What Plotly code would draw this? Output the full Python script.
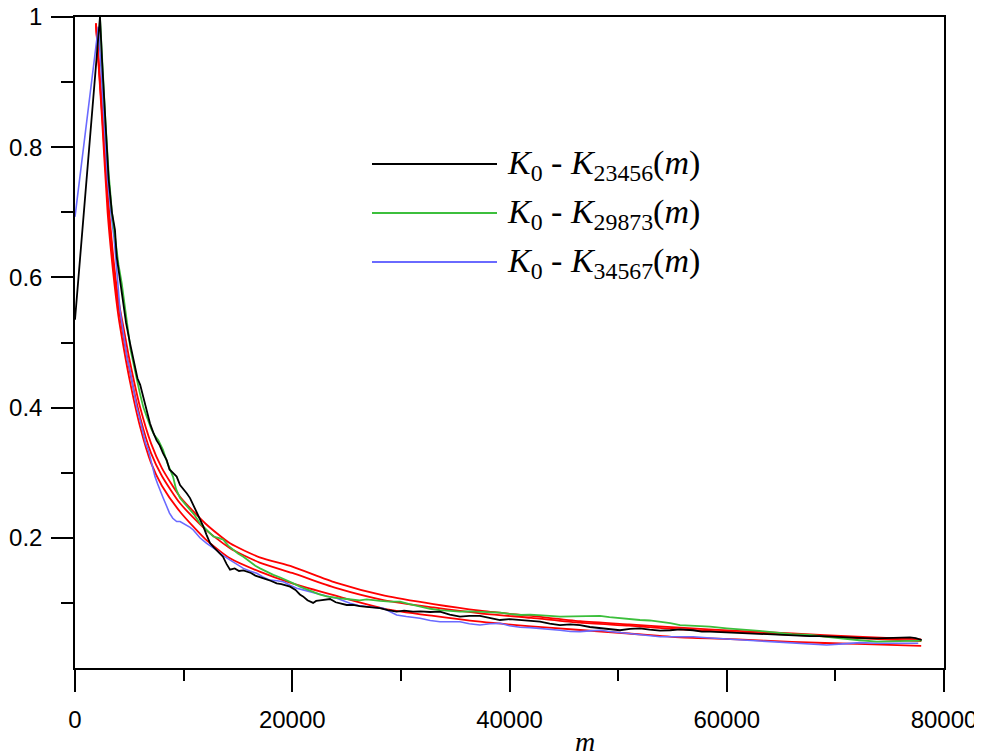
import plotly.graph_objects as go

# ---- data ----
black_m = [0, 2300, 2500, 2800, 3100, 3400, 3680, 3840, 4100, 4400, 4700, 5063, 5300, 5500, 5750, 6000, 6290, 6600, 6900, 7200,
           7500, 7800, 8100, 8440, 8700, 9000, 9360, 9670, 10000, 10300, 10590, 10900, 11200, 11510, 11800, 12100, 12430, 12800,
           13200, 13620, 13950, 14270, 14700, 15100, 15500, 15800, 16200, 16600, 17030, 17500, 18000, 18570, 19000, 19400, 19800,
           20300, 20700, 20990, 21400, 21920, 22200, 22560, 23000, 23480, 24000, 24500, 25010, 25600, 26200, 26850, 27500, 28080,
           28800, 29610, 30300, 31120, 31800, 32700, 33600, 34500, 35440, 36300, 37280, 38200, 39130, 40000, 40970, 41900, 42810,
           43700, 44650, 45600, 46490, 47400, 48330, 49200, 50170, 51100, 52010, 52900, 53860, 54800, 55700, 56900, 57700, 58460,
           59500, 60500, 61500, 62500, 63500, 64600, 65600, 66600, 67660, 68700, 69700, 70700, 71700, 72700, 73800, 74800, 75800,
           76870, 77400, 77950]
black_y = [0.535, 1.0, 0.93, 0.83, 0.75, 0.70, 0.673, 0.632, 0.60, 0.56, 0.53, 0.499, 0.48, 0.465, 0.445, 0.435, 0.417, 0.395, 0.376, 0.362,
           0.350, 0.342, 0.330, 0.3195, 0.305, 0.300, 0.294, 0.281, 0.275, 0.268, 0.261, 0.250, 0.240, 0.227, 0.218, 0.205, 0.192, 0.185,
           0.178, 0.171, 0.160, 0.151, 0.153, 0.149, 0.150, 0.148, 0.146, 0.142, 0.140, 0.137, 0.134, 0.130, 0.129, 0.127, 0.125,
           0.120, 0.113, 0.110, 0.104, 0.100, 0.103, 0.104, 0.105, 0.106, 0.101, 0.099, 0.0968, 0.097, 0.095, 0.094, 0.093, 0.092,
           0.089, 0.0865, 0.088, 0.0865, 0.087, 0.086, 0.0865, 0.082, 0.0788, 0.080, 0.080, 0.077, 0.0737, 0.075, 0.0737, 0.072, 0.0711,
           0.068, 0.066, 0.067, 0.066, 0.063, 0.061, 0.059, 0.058, 0.060, 0.061, 0.059, 0.0573, 0.058, 0.0594, 0.058, 0.056, 0.0558,
           0.055, 0.054, 0.053, 0.053, 0.052, 0.0517, 0.050, 0.050, 0.049, 0.049, 0.048, 0.048, 0.047, 0.046, 0.0455, 0.046, 0.046,
           0.047, 0.046, 0.043]

green_m = [2300, 2500, 2800, 3100, 3400, 3700, 4000, 4300, 4450, 4650, 4880, 5100, 5400, 5680, 6000, 6300, 6600, 7000, 7300, 7670,
           8100, 8500, 9020, 9300, 9670, 10100, 10590, 11000, 11510, 12100, 12730, 13200, 13650, 14100, 14570, 15000, 15500, 16110,
           16600, 17030, 17600, 18260, 18900, 19490, 20100, 20710, 21300, 21940, 22500, 23170, 23800, 24400, 25000, 25620, 26200,
           26850, 27500, 28080, 29000, 29920, 30800, 31760, 32700, 33600, 34500, 35440, 36300, 37280, 38200, 39130, 40000, 40970,
           41900, 42810, 43700, 44650, 45600, 46490, 47400, 48330, 49200, 50170, 51100, 52010, 52900, 53860, 54800, 55700, 57000,
           58460, 60000, 61530, 63000, 64600, 66000, 67660, 69000, 70730, 72000, 73800, 75300, 76870, 77950]
green_y = [1.0, 0.93, 0.84, 0.76, 0.70, 0.66, 0.62, 0.591, 0.570, 0.545, 0.519, 0.49, 0.465, 0.447, 0.42, 0.40, 0.386, 0.368, 0.358, 0.350,
           0.335, 0.315, 0.294, 0.275, 0.261, 0.252, 0.243, 0.235, 0.222, 0.212, 0.202, 0.200, 0.197, 0.188, 0.181, 0.176, 0.171, 0.163,
           0.157, 0.153, 0.148, 0.143, 0.139, 0.135, 0.130, 0.125, 0.121, 0.117, 0.113, 0.110, 0.108, 0.107, 0.106, 0.1045, 0.104,
           0.1055, 0.104, 0.103, 0.102, 0.102, 0.098, 0.094, 0.091, 0.089, 0.088, 0.0865, 0.087, 0.0865, 0.086, 0.085, 0.083, 0.0814,
           0.082, 0.0814, 0.080, 0.0788, 0.079, 0.0788, 0.080, 0.080, 0.078, 0.0763, 0.075, 0.0737, 0.073, 0.0715, 0.069, 0.066, 0.065,
           0.0635, 0.061, 0.0594, 0.057, 0.0543, 0.052, 0.0507, 0.048, 0.0456, 0.043, 0.0404, 0.041, 0.042, 0.042]

blue_m = [0, 2150, 2400, 2700, 3000, 3300, 3600, 3900, 4140, 4400, 4600, 4800, 5060, 5350, 5680, 6000, 6290, 6500, 6750, 7050,
          7360, 7600, 7820, 8100, 8400, 8700, 9000, 9360, 9670, 10000, 10280, 10600, 10890, 11200, 11500, 12120, 12600, 13040,
          13600, 14270, 14900, 15500, 16100, 16730, 17300, 17950, 18600, 19180, 19800, 20410, 21000, 21630, 22200, 22860, 23500,
          24090, 24700, 25320, 26100, 26850, 27600, 28380, 29000, 29610, 30500, 31760, 32700, 33600, 34500, 35440, 36300, 37280,
          38200, 39130, 40000, 40970, 41900, 42810, 43700, 44650, 45600, 46490, 47400, 48330, 49200, 50170, 51100, 52010, 52900,
          53860, 55000, 56920, 58500, 59990, 61500, 63060, 64600, 66130, 67700, 69200, 70700, 72270, 73800, 75330, 76500, 77630]
blue_y = [0.693, 0.985, 0.92, 0.83, 0.75, 0.70, 0.66, 0.60, 0.55, 0.52, 0.499, 0.475, 0.458, 0.43, 0.401, 0.38, 0.36, 0.345, 0.335, 0.315,
          0.294, 0.283, 0.273, 0.262, 0.250, 0.238, 0.230, 0.225, 0.225, 0.222, 0.220, 0.216, 0.212, 0.206, 0.200, 0.1915, 0.186, 0.181,
          0.173, 0.166, 0.160, 0.153, 0.149, 0.1455, 0.140, 0.135, 0.134, 0.1326, 0.127, 0.1224, 0.120, 0.117, 0.114, 0.112, 0.109,
          0.107, 0.103, 0.0994, 0.096, 0.094, 0.093, 0.0917, 0.086, 0.0814, 0.079, 0.0763, 0.073, 0.0711, 0.071, 0.0711, 0.068, 0.066,
          0.068, 0.0686, 0.065, 0.0625, 0.062, 0.061, 0.059, 0.058, 0.056, 0.0558, 0.057, 0.058, 0.056, 0.0543, 0.053, 0.0522, 0.050,
          0.048, 0.048, 0.048, 0.046, 0.044, 0.043, 0.0415, 0.040, 0.039, 0.037, 0.0353, 0.037, 0.039, 0.038, 0.038, 0.037, 0.038]

fit_m = [1930, 2500, 3000, 3500, 4000, 4500, 5000, 6000, 7000, 8000, 9670, 12000, 14270, 17000, 20000, 24000, 28500, 33000,
         37300, 42000, 46500, 51000, 55700, 61000, 66000, 72000, 77900]
fit1_y = [0.99, 0.86, 0.73, 0.635, 0.565, 0.52, 0.475, 0.40, 0.345, 0.307, 0.263, 0.222, 0.1915, 0.17, 0.1556, 0.131, 0.111, 0.098,
          0.088, 0.080, 0.072, 0.067, 0.062, 0.057, 0.053, 0.048, 0.044]
fit2_y = [0.99, 0.85, 0.72, 0.625, 0.555, 0.505, 0.46, 0.385, 0.33, 0.295, 0.253, 0.213, 0.184, 0.162, 0.146, 0.123, 0.104, 0.093,
          0.084, 0.077, 0.0696, 0.065, 0.0594, 0.055, 0.051, 0.046, 0.0415]
fit3_y = [0.99, 0.84, 0.70, 0.61, 0.54, 0.49, 0.445, 0.37, 0.315, 0.28, 0.240, 0.198, 0.1685, 0.148, 0.130, 0.111, 0.091, 0.080,
          0.0711, 0.064, 0.0584, 0.053, 0.047, 0.044, 0.040, 0.037, 0.034]

legend_labels = [
    "<i>K</i><sub>0</sub> - <i>K</i><sub>23456</sub>(<i>m</i>)",
    "<i>K</i><sub>0</sub> - <i>K</i><sub>29873</sub>(<i>m</i>)",
    "<i>K</i><sub>0</sub> - <i>K</i><sub>34567</sub>(<i>m</i>)",
]

x_tickvals = [0, 20000, 40000, 60000, 80000]
x_ticktext = ["0", "20000", "40000", "60000", "80000"]
y_tickvals = [0.2, 0.4, 0.6, 0.8, 1.0]
y_ticktext = ["0.2", "0.4", "0.6", "0.8", "1"]

BLACK = "#000000"
GREEN = "#3cbf3c"
BLUE = "#6a6aff"
RED = "#ff0000"

fig = go.Figure()
for fy in (fit1_y, fit2_y, fit3_y):
    fig.add_trace(go.Scatter(x=fit_m, y=fy, mode="lines", line=dict(color=RED, width=1.8, shape="spline", smoothing=0.6),
                             showlegend=False, hoverinfo="skip"))
fig.add_trace(go.Scatter(x=blue_m, y=blue_y, mode="lines", line=dict(color=BLUE, width=1.6), showlegend=False))
fig.add_trace(go.Scatter(x=green_m, y=green_y, mode="lines", line=dict(color=GREEN, width=1.8), showlegend=False))
fig.add_trace(go.Scatter(x=black_m, y=black_y, mode="lines", line=dict(color=BLACK, width=1.8), showlegend=False))

# page body has an 8px margin, so the figure is placed at (8, 8) on screen
OFF = 8
W, H = 982 - OFF, 756 - OFF
PL, PT, PR, PB = 75, 17, 944, 668          # desired plot-area edges in screen pixels
L, T = PL - OFF, PT - OFF
R = W - (PR - OFF)
B = H - (PB - OFF)
pw, ph = PR - PL, PB - PT

def px_x(p):
    return (p - PL) / pw
def px_y(p):
    return (PB - p) / ph

leg_colors = [BLACK, GREEN, BLUE]
leg_rows = [164, 213, 262]
for lbl, col, row in zip(legend_labels, leg_colors, leg_rows):
    fig.add_shape(type="line", xref="paper", yref="paper", x0=px_x(372), x1=px_x(497), y0=px_y(row), y1=px_y(row),
                  line=dict(color=col, width=1.8))
    fig.add_annotation(xref="paper", yref="paper", x=px_x(505), y=px_y(row + 1), xanchor="left", yanchor="middle",
                       text=lbl, showarrow=False, font=dict(family="Liberation Serif", size=34, color="#000"))

fig.add_annotation(xref="paper", yref="paper", x=px_x(585), y=px_y(741), xanchor="center", yanchor="middle",
                   text="<i>m</i>", showarrow=False, font=dict(family="Liberation Serif", size=28, color="#000"))

axis_font = dict(family="Liberation Sans", size=24, color="#000")
fig.update_layout(
    width=W, height=H,
    margin=dict(l=L, r=R, t=T, b=B, pad=0, autoexpand=False),
    paper_bgcolor="white", plot_bgcolor="white",
    showlegend=False,
    xaxis=dict(range=[0, 80000], tickvals=x_tickvals, ticktext=x_ticktext, ticks="outside", ticklen=22, tickwidth=1.5,
               tickcolor="#000", showline=True, linecolor="#000", linewidth=1.5, mirror=True, showgrid=False,
               zeroline=False, tickfont=axis_font, ticklabelstandoff=7, automargin=False, ticklabeloverflow="allow",
               minor=dict(tickvals=[10000, 30000, 50000, 70000], ticks="outside", ticklen=11, tickwidth=1.5, tickcolor="#000")),
    yaxis=dict(range=[0, 1], tickvals=y_tickvals, ticktext=y_ticktext, ticks="outside", ticklen=22, tickwidth=1.5,
               tickcolor="#000", showline=True, linecolor="#000", linewidth=1.5, mirror=True, showgrid=False,
               zeroline=False, tickfont=axis_font, ticklabelstandoff=4, automargin=False, ticklabeloverflow="allow",
               minor=dict(tickvals=[0.1, 0.3, 0.5, 0.7, 0.9], ticks="outside", ticklen=12, tickwidth=1.5, tickcolor="#000")),
)

fig.write_html("out.html")
